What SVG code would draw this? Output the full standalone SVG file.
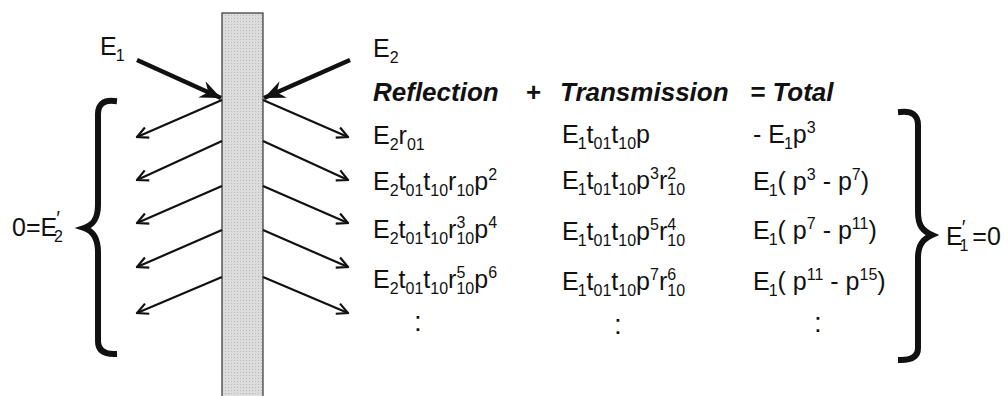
<svg xmlns="http://www.w3.org/2000/svg" width="1008" height="396" viewBox="0 0 1008 396">
<style>
text{font-family:"Liberation Sans",Arial,sans-serif;font-size:25px;fill:#111}
.h{font-size:26px;font-weight:bold;font-style:italic}
.s{font-size:16px}
.pr{font-size:20px}
.d{font-size:28px;text-anchor:middle}
.thin{stroke:#111;stroke-width:2.2;fill:none;marker-end:url(#open)}
.thick{stroke:#111;stroke-width:4.5;fill:none;marker-end:url(#barb)}
.brace{stroke:#111;stroke-width:6;fill:none;stroke-linecap:square}
</style>
<defs>
<marker id="open" viewBox="0 0 14 14" refX="12.5" refY="7" markerWidth="14" markerHeight="14" markerUnits="userSpaceOnUse" orient="auto">
<path d="M1.5,1.5 L12.5,7 L1.5,12.5" fill="none" stroke="#111" stroke-width="2.2"/>
</marker>
<marker id="barb" viewBox="0 0 22 18" refX="21" refY="9" markerWidth="22" markerHeight="18" markerUnits="userSpaceOnUse" orient="auto">
<path d="M0,0 L21,9 L0,18 L7,9 Z" fill="#111"/>
</marker>
<pattern id="stip" width="3" height="3" patternUnits="userSpaceOnUse">
<rect width="3" height="3" fill="#dcdcdc"/>
<rect width="1" height="1" fill="#b8b8b8"/>
</pattern>
</defs>

<g id="slab">
<rect x="222" y="13" width="41" height="390" fill="url(#stip)" stroke="#333" stroke-width="1.2"/>
</g>

<g id="connectors">
<line class="thick" x1="137" y1="60" x2="221" y2="98"/>
<line class="thick" x1="350" y1="60" x2="264" y2="98"/>
<line class="thin" x1="222" y1="100" x2="137" y2="137"/>
<line class="thin" x1="222" y1="141" x2="137" y2="180"/>
<line class="thin" x1="222" y1="186" x2="137" y2="223"/>
<line class="thin" x1="222" y1="230" x2="137" y2="267"/>
<line class="thin" x1="222" y1="277" x2="137" y2="313"/>
<line class="thin" x1="263" y1="100" x2="348" y2="137"/>
<line class="thin" x1="263" y1="141" x2="348" y2="180"/>
<line class="thin" x1="263" y1="186" x2="348" y2="223"/>
<line class="thin" x1="263" y1="230" x2="348" y2="267"/>
<line class="thin" x1="263" y1="277" x2="348" y2="313"/>
</g>

<g id="left-brace">
<path class="brace" d="M114,101 C104,100 98,104 98,114 L98,205 C98,219 93,225 84,228 C93,231 98,238 98,252 L98,341 C98,350 104,354 114,354"/>
<text x="12" y="236">0=E<tspan class="pr" dx="-1" dy="-11">′</tspan><tspan class="s" dx="-6" dy="17">2</tspan></text>
</g>

<g id="right-brace">
<path class="brace" d="M901,112 C912,111 918,115 918,125 L918,212 C918,226 923,231 932,235 C923,239 918,245 918,258 L918,348 C918,356 912,360 901,360"/>
<text x="946" y="245">E<tspan class="pr" dx="-1" dy="-11">′</tspan><tspan class="s" dx="-6" dy="17">1</tspan><tspan dy="-6" dx="4">=0</tspan></text>
</g>

<g id="labels">
<text x="100" y="55">E<tspan class="s" dx="-1" dy="6">1</tspan></text>
<text x="373" y="57">E<tspan class="s" dy="6">2</tspan></text>
</g>

<g id="header">
<text class="h" x="373" y="101">Reflection</text>
<text class="h" x="533" y="101" text-anchor="middle">+</text>
<text class="h" x="560" y="101">Transmission</text>
<text class="h" x="750" y="101">= Total</text>
</g>

<g id="reflection-col">
<text x="373" y="144">E<tspan class="s" dy="6">2</tspan><tspan dy="-6">r</tspan><tspan class="s" dy="6">01</tspan></text>
<text x="373" y="190">E<tspan class="s" dy="6">2</tspan><tspan dy="-6">t</tspan><tspan class="s" dy="6">01</tspan><tspan dy="-6">t</tspan><tspan class="s" dy="6">10</tspan><tspan dy="-6">r</tspan><tspan class="s" dy="6">10</tspan><tspan dy="-6">p</tspan><tspan class="s" dy="-10">2</tspan></text>
<text x="373" y="238">E<tspan class="s" dy="6">2</tspan><tspan dy="-6">t</tspan><tspan class="s" dy="6">01</tspan><tspan dy="-6">t</tspan><tspan class="s" dy="6">10</tspan><tspan dy="-6">r</tspan><tspan class="s" dy="6">10</tspan><tspan class="s" dx="-17.8" dy="-16">3</tspan><tspan dx="8.9" dy="10">p</tspan><tspan class="s" dy="-10">4</tspan></text>
<text x="373" y="288">E<tspan class="s" dy="6">2</tspan><tspan dy="-6">t</tspan><tspan class="s" dy="6">01</tspan><tspan dy="-6">t</tspan><tspan class="s" dy="6">10</tspan><tspan dy="-6">r</tspan><tspan class="s" dy="6">10</tspan><tspan class="s" dx="-17.8" dy="-16">5</tspan><tspan dx="8.9" dy="10">p</tspan><tspan class="s" dy="-10">6</tspan></text>
<text class="d" x="418" y="331">:</text>
</g>

<g id="transmission-col">
<text x="562" y="143">E<tspan class="s" dx="-1" dy="6">1</tspan><tspan dy="-6">t</tspan><tspan class="s" dy="6">01</tspan><tspan dy="-6">t</tspan><tspan class="s" dy="6">10</tspan><tspan dy="-6">p</tspan></text>
<text x="562" y="189">E<tspan class="s" dx="-1" dy="6">1</tspan><tspan dy="-6">t</tspan><tspan class="s" dy="6">01</tspan><tspan dy="-6">t</tspan><tspan class="s" dy="6">10</tspan><tspan dy="-6">p</tspan><tspan class="s" dy="-10">3</tspan><tspan dy="10">r</tspan><tspan class="s" dy="6">10</tspan><tspan class="s" dx="-17.8" dy="-16">2</tspan></text>
<text x="562" y="240">E<tspan class="s" dx="-1" dy="6">1</tspan><tspan dy="-6">t</tspan><tspan class="s" dy="6">01</tspan><tspan dy="-6">t</tspan><tspan class="s" dy="6">10</tspan><tspan dy="-6">p</tspan><tspan class="s" dy="-10">5</tspan><tspan dy="10">r</tspan><tspan class="s" dy="6">10</tspan><tspan class="s" dx="-17.8" dy="-16">4</tspan></text>
<text x="562" y="290">E<tspan class="s" dx="-1" dy="6">1</tspan><tspan dy="-6">t</tspan><tspan class="s" dy="6">01</tspan><tspan dy="-6">t</tspan><tspan class="s" dy="6">10</tspan><tspan dy="-6">p</tspan><tspan class="s" dy="-10">7</tspan><tspan dy="10">r</tspan><tspan class="s" dy="6">10</tspan><tspan class="s" dx="-17.8" dy="-16">6</tspan></text>
<text class="d" x="618" y="334">:</text>
</g>

<g id="total-col">
<text x="753" y="143">- E<tspan class="s" dx="-1" dy="6">1</tspan><tspan dy="-6">p</tspan><tspan class="s" dy="-10">3</tspan></text>
<text x="753" y="190">E<tspan class="s" dx="-1" dy="6">1</tspan><tspan dy="-6">( p</tspan><tspan class="s" dy="-10">3</tspan><tspan dy="10"> -  p</tspan><tspan class="s" dy="-10">7</tspan><tspan dy="10">)</tspan></text>
<text x="753" y="239">E<tspan class="s" dx="-1" dy="6">1</tspan><tspan dy="-6">( p</tspan><tspan class="s" dy="-10">7</tspan><tspan dy="10"> -  p</tspan><tspan class="s" dy="-10">11</tspan><tspan dy="10">)</tspan></text>
<text x="753" y="290">E<tspan class="s" dx="-1" dy="6">1</tspan><tspan dy="-6">( p</tspan><tspan class="s" dy="-10">11</tspan><tspan dy="10"> -  p</tspan><tspan class="s" dy="-10">15</tspan><tspan dy="10">)</tspan></text>
<text class="d" x="818" y="332">:</text>
</g>
</svg>
